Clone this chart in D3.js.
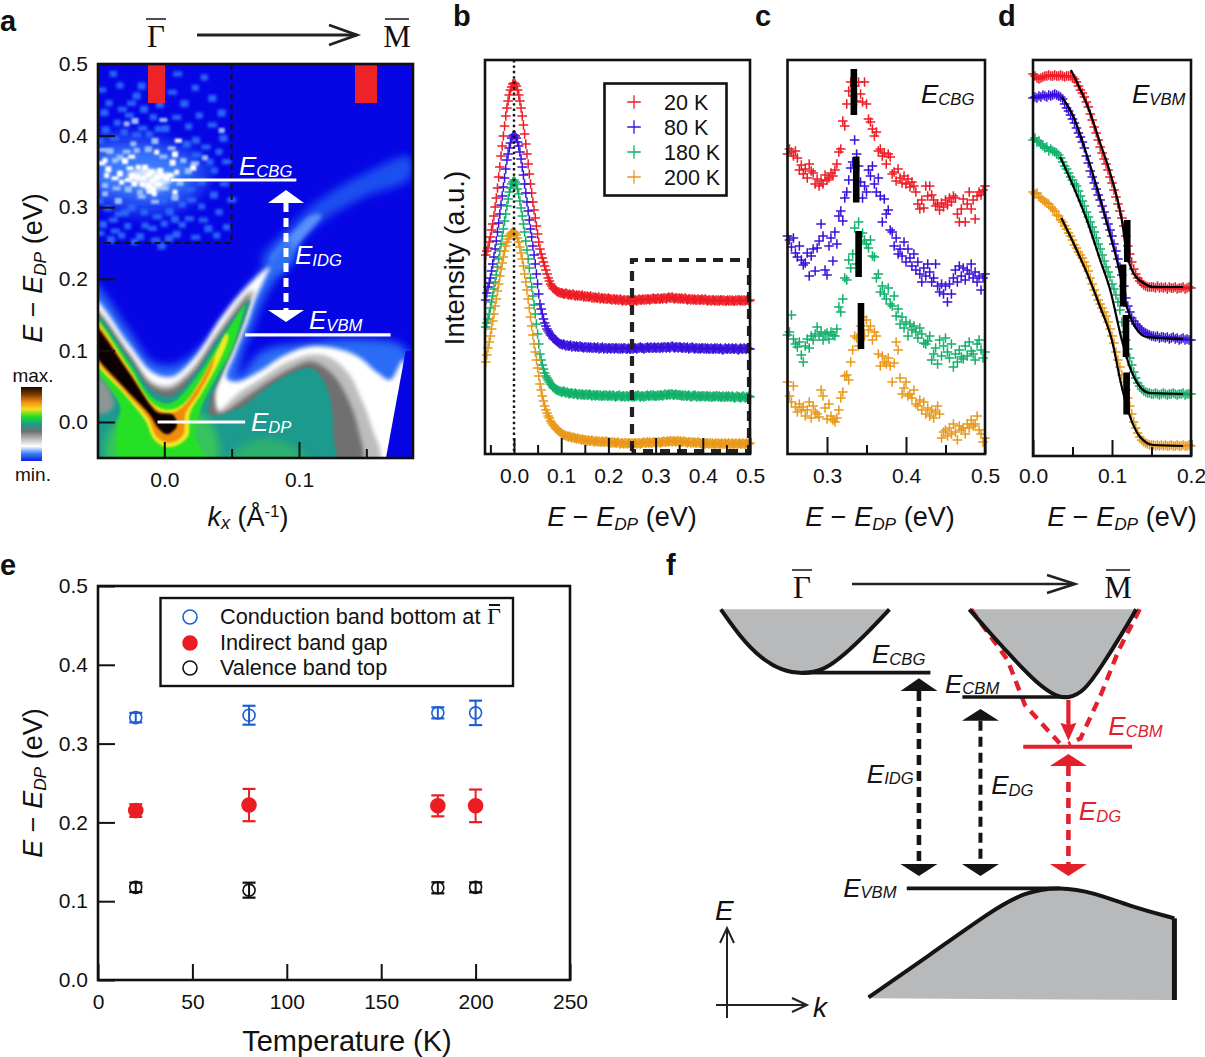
<!DOCTYPE html>
<html><head><meta charset="utf-8">
<script src="https://cdn.jsdelivr.net/npm/d3@7/dist/d3.min.js"></script>
<style>
html,body{margin:0;padding:0;background:#fff}
svg{display:block}
text{font-family:"Liberation Sans",Arial,sans-serif;fill:#111}
.tick text{font-size:21px}
</style></head><body>
<svg id="fig" width="1205" height="1057"></svg>
<script>
// ---------- Panel e ----------
const temperatures=[20,80,180,200];
const cbgEnergy=[.333,.336,.339,.339], cbgErr=[.006,.012,.007,.0155];
const idgEnergy=[.215,.222,.221,.221], idgErr=[.008,.0205,.0133,.0207];
const vbmEnergy=[.1176,.114,.117,.1176], vbmErr=[.006,.0095,.007,.0063];
const tempLabels=["20 K","80 K","180 K","200 K"];
const seriesColors=["#ee1c25","#3a10dc","#12b06a","#e8981a"];
// ---------- Panel b ----------
const eB=[-.06,-.0575,-.055,-.0525,-.05,-.0475,-.045,-.0425,-.04,-.0375,-.035,-.0325,-.03,-.0275,-.025,-.0225,-.02,-.0175,-.015,-.0125,-.01,-.0075,-.005,-.0025,0,.0025,.005,.0075,.01,.0125,.015,.0175,.02,.0225,.025,.0275,.03,.0325,.035,.0375,.04,.0425,.045,.0475,.05,.0525,.055,.0575,.06,.0625,.065,.0675,.07,.0725,.075,.0775,.08,.0825,.085,.0875,.09,.0925,.095,.0975,.1,.1025,.105,.1075,.11,.1125,.115,.1175,.12,.1225,.125,.1275,.13,.1325,.135,.1375,.14,.1425,.145,.1475,.15,.1525,.155,.1575,.16,.1625,.165,.1675,.17,.1725,.175,.1775,.18,.1825,.185,.1875,.19,.1925,.195,.1975,.2,.2025,.205,.2075,.21,.2125,.215,.2175,.22,.2225,.225,.2275,.23,.2325,.235,.2375,.24,.2425,.245,.2475,.25,.2525,.255,.2575,.26,.2625,.265,.2675,.27,.2725,.275,.2775,.28,.2825,.285,.2875,.29,.2925,.295,.2975,.3,.3025,.305,.3075,.31,.3125,.315,.3175,.32,.3225,.325,.3275,.33,.3325,.335,.3375,.34,.3425,.345,.3475,.35,.3525,.355,.3575,.36,.3625,.365,.3675,.37,.3725,.375,.3775,.38,.3825,.385,.3875,.39,.3925,.395,.3975,.4,.4025,.405,.4075,.41,.4125,.415,.4175,.42,.4225,.425,.4275,.43,.4325,.435,.4375,.44,.4425,.445,.4475,.45,.4525,.455,.4575,.46,.4625,.465,.4675,.47,.4725,.475,.4775,.48,.4825,.485,.4875,.49,.4925,.495,.4975,.5];
const bRed=[199,203,206,212,217,224,230,238,247,256,266,277,287,298,308,318,328,338,346,353,359,364,367,370,371,370,368,364,359,353,346,338,329,320,310,300,290,280,270,261,252,244,236,228,220,212,205,200,196,192,188,184,180,176,173,170,168,166,165,164,163,162,162,161,161,161,160,160,161,160,159,160,159,159,160,159,158,159,158,159,158,158,159,157,158,157,158,157,157,158,156,157,156,157,156,156,157,155,156,156,155,156,155,155,156,155,155,154,155,155,154,155,154,154,155,154,153,154,154,153,154,154,153,154,154,153,154,154,153,154,155,154,154,155,154,155,154,155,155,154,155,155,156,155,155,155,156,155,155,156,155,156,156,155,156,157,156,156,157,156,155,156,156,155,156,155,156,155,155,156,155,154,155,155,154,155,154,155,154,154,155,154,154,155,154,154,155,154,153,154,154,153,154,154,153,154,153,154,153,154,154,153,154,153,153,154,153,154,153,154,153,153,154,153,154,154,153,154,153,154,153,154,154,153,154];
const bBlue=[154,161,167,171,176,183,190,197,205,213,222,231,240,249,258,267,276,285,294,300,306,311,316,318,319,318,316,312,308,302,295,287,279,270,261,252,243,234,225,217,208,199,190,180,170,160,150,145,140,135,131,128,125,123,121,119,118,116,115,114,113,112,111,110,110,109,110,109,108,109,108,108,109,107,108,108,107,108,107,107,108,107,107,106,107,107,106,107,106,107,106,106,107,106,106,107,105,106,106,107,105,106,106,105,106,106,105,106,106,105,106,106,105,106,105,106,105,106,106,105,105,106,105,105,106,105,106,106,105,106,106,107,106,106,105,106,106,107,106,106,107,106,106,107,106,106,107,106,106,107,106,107,107,106,107,107,106,107,108,107,106,107,107,106,107,107,106,106,107,106,106,107,105,106,106,107,106,105,106,106,105,106,105,106,106,105,106,105,106,105,105,106,105,105,106,105,106,105,105,106,105,104,105,106,105,105,106,105,105,106,105,105,106,105,104,105,106,105,105,106,105,105,106,105,105];
const bGreen=[127,131,135,140,146,152,158,165,172,179,187,195,203,210,218,225,233,240,248,255,262,266,270,272,274,272,270,265,260,253,246,238,230,222,213,204,195,186,176,167,158,149,140,130,120,110,100,94,89,85,81,78,76,74,72,70,69,67,66,65,64,64,63,63,62,62,63,62,61,62,61,60,61,61,60,60,61,60,59,60,60,59,60,59,59,60,59,59,60,59,58,59,59,58,59,59,58,59,58,58,59,58,59,58,58,59,58,58,59,58,57,58,58,59,58,57,58,58,57,58,58,57,58,58,57,58,57,58,58,59,58,57,58,58,57,58,58,59,58,58,59,58,59,58,58,58,59,58,59,59,58,59,60,59,59,60,59,60,60,59,59,60,59,59,59,59,58,59,58,59,58,58,59,58,57,58,58,59,58,57,58,58,57,58,58,58,57,58,58,57,58,57,57,58,57,58,58,57,58,57,57,58,57,57,58,57,58,57,57,58,57,56,57,58,57,57,56,57,58,57,56,57,57,58,57];
const bOrange=[92,99,106,112,118,125,133,140,148,155,163,170,178,185,191,197,203,208,212,215,218,220,221,222,222,221,219,216,212,207,201,195,188,180,172,164,155,146,137,128,119,110,102,94,86,78,70,64,58,53,48,44,41,38,36,33,31,29,28,26,25,24,23,22,21,20,19,19,18,18,17,18,17,16,17,16,16,15,16,15,15,14,15,14,14,14,13,14,13,13,14,13,12,13,13,12,13,12,12,13,12,12,13,12,12,12,11,12,11,12,11,11,12,11,10,11,11,10,11,11,10,11,11,10,11,10,11,11,10,11,11,10,11,11,12,11,11,12,11,12,11,11,12,12,11,11,12,12,11,12,12,13,12,12,13,12,13,13,12,13,13,12,13,13,12,13,12,12,13,12,12,11,12,12,11,12,11,12,11,11,12,11,11,10,11,11,10,11,11,10,11,10,11,10,10,11,10,11,10,10,11,10,10,11,10,10,11,10,10,11,10,10,11,10,10,11,10,10,11,10,10,11,10,10,11];
// ---------- Panel c ----------
const eC=[.25,.2525,.255,.2575,.26,.2625,.265,.2675,.27,.2725,.275,.2775,.28,.2825,.285,.2875,.29,.2925,.295,.2975,.3,.3025,.305,.3075,.31,.3125,.315,.3175,.32,.3225,.325,.3275,.33,.3325,.335,.3375,.34,.3425,.345,.3475,.35,.3525,.355,.3575,.36,.3625,.365,.3675,.37,.3725,.375,.3775,.38,.3825,.385,.3875,.39,.3925,.395,.3975,.4,.4025,.405,.4075,.41,.4125,.415,.4175,.42,.4225,.425,.4275,.43,.4325,.435,.4375,.44,.4425,.445,.4475,.45,.4525,.455,.4575,.46,.4625,.465,.4675,.47,.4725,.475,.4775,.48,.4825,.485,.4875,.49,.4925,.495,.4975,.5];
const cRed=[300,305,302,298,303,296,284,289,280,285,276,290,283,281,270,275,268,273,270,279,274,276,281,278,284,290,302,305,333,328,350,363,372,358,368,353,372,360,352,372,350,335,332,325,318,322,303,305,298,301,290,300,297,280,282,273,285,276,271,278,270,275,267,272,268,262,250,245,254,246,268,258,268,259,254,248,250,244,251,247,254,249,256,252,258,256,240,232,245,255,232,250,262,245,254,235,258,262,259,264,268];
const cBlue=[218,214,207,216,201,197,208,194,189,191,201,178,198,205,183,206,213,230,218,184,179,208,216,193,222,210,238,243,233,256,262,274,286,292,314,300,288,272,256,268,262,284,278,288,270,262,276,258,232,255,240,244,224,222,208,216,200,205,198,212,192,205,196,188,200,184,192,180,172,186,178,190,182,172,176,190,168,162,170,160,168,152,170,160,176,184,172,188,178,186,174,184,180,190,176,182,172,178,164,176,180];
const cGreen=[119,122,139,115,110,107,112,99,92,108,115,106,118,114,120,127,118,122,114,120,121,115,122,119,118,125,147,142,155,176,174,194,186,200,226,190,232,212,221,214,210,206,214,198,197,176,180,162,168,160,155,166,150,148,158,138,145,130,137,126,132,118,130,124,128,122,116,126,120,111,110,113,118,94,100,106,90,114,98,108,116,102,96,110,87,100,92,104,97,95,108,98,112,103,100,94,110,114,104,96,102];
const cOrange=[72,58,52,68,47,42,50,44,47,38,44,52,36,48,42,40,37,64,58,46,35,50,38,34,32,36,44,56,62,78,79,74,92,104,118,116,108,128,137,118,134,124,128,114,122,118,100,88,98,92,90,96,88,72,91,112,104,76,60,66,72,58,60,56,64,50,48,54,44,52,40,46,38,44,36,42,48,40,16,22,24,18,26,20,30,22,14,28,24,26,20,30,26,34,28,30,38,24,20,12,16];
const cBarE=[.334,.337,.34,.343], cBarI=[362,274.5,200,128];
// ---------- Panel d ----------
const eD=[0,.0025,.005,.0075,.01,.0125,.015,.0175,.02,.0225,.025,.0275,.03,.0325,.035,.0375,.04,.0425,.045,.0475,.05,.0525,.055,.0575,.06,.0625,.065,.0675,.07,.0725,.075,.0775,.08,.0825,.085,.0875,.09,.0925,.095,.0975,.1,.1025,.105,.1075,.11,.1125,.115,.1175,.12,.1225,.125,.1275,.13,.1325,.135,.1375,.14,.1425,.145,.1475,.15,.1525,.155,.1575,.16,.1625,.165,.1675,.17,.1725,.175,.1775,.18,.1825,.185,.1875,.19,.1925,.195,.1975,.2];
const dRed=[382,380,378,377,378,379,380,380,381,380,380,381,380,380,381,380,379,380,380,380,379,377,374,370,366,363,359,354,349,342,336,329,323,316,309,303,297,292,286,279,273,266,259,252,245,238,230,220,210,202,194,187,182,178,175,173,171,170,169,169,169,169,168,170,168,169,168,169,167,169,168,168,169,167,168,168,169,167,168,169,168];
const dBlue=[358,359,358,360,359,361,360,359,361,360,361,362,361,360,359,357,352,348,345,341,337,333,328,323,319,314,308,300,293,285,279,273,267,261,256,250,244,238,232,226,220,212,205,197,189,181,170,158,150,144,138,135,132,130,128,126,124,123,122,121,120,120,119,120,118,119,119,118,119,117,118,119,117,118,116,117,118,116,117,116,116];
const dGreen=[316,318,314,315,312,310,308,309,305,307,305,304,303,301,298,294,290,287,283,279,276,272,270,265,260,255,250,244,239,234,229,224,218,212,207,201,195,189,184,179,172,167,161,154,146,134,124,116,107,98,91,84,78,73,70,67,65,64,63,63,62,62,63,62,61,62,63,62,61,62,62,63,62,61,62,62,63,61,62,62,62];
const dOrange=[264,262,263,259,258,256,254,253,252,249,247,245,241,240,236,234,230,227,223,220,216,211,208,204,201,198,194,190,185,178,172,166,161,156,152,148,144,140,134,127,120,113,104,96,89,81,74,66,58,50,42,34,28,23,19,16,14,13,12,11,11,11,10,11,10,11,10,11,10,10,11,10,10,11,10,10,11,10,10,11,10];
const fitRed=[[.048,386],[.0724,343],[.085,313],[.0977,283],[.1124,236],[.1187,203],[.127,183],[.14,173],[.1524,169],[.19,169]];
const fitBlue=[[.0366,359],[.0514,339],[.0661,306],[.0808,269],[.0935,233],[.1082,189],[.1187,149],[.1293,129],[.144,119],[.19,117]];
const fitGreen=[[.0345,299],[.0514,269],[.0682,236],[.085,196],[.0977,166],[.1124,116],[.123,88],[.1356,69],[.1482,63],[.19,62]];
const fitOrange=[[.0358,238],[.0535,209],[.0703,179],[.085,149],[.0998,116],[.1124,69],[.123,39],[.1356,19],[.1524,11],[.19,10]];
const dBarE=[.1193,.114,.1177,.1185], dBarI=[215,170.5,120,62.5];
// ---------- Panel a: iso-intensity outlines ----------
const isoHalo=[[-10,100],[100,240],[170,335],[240,345],[340,270],[460,110],[530,25],[575,-30],[600,20],[540,90],[495,170],[470,240],[445,300],[430,385],[500,305],[620,280],[800,268],[935,300],[935,640],[-10,640]];
const isoBandUpper=[[500,30],[590,-75],[660,-140],[800,-225],[945,-280],[945,-215],[810,-160],[680,-85],[610,-15],[550,70]];
const isoBandBright=[[525,35],[600,-60],[650,-105],[680,-105],[620,-30],[555,55]];
const isoWhite=[[-10,145],[100,280],[170,365],[230,380],[300,320],[380,200],[460,105],[525,50],[510,85],[480,150],[460,210],[420,310],[395,385],[425,395],[500,360],[560,320],[640,290],[720,295],[790,320],[850,370],[885,390],[925,330],[925,640],[-10,640]];
const isoGray=[[-10,170],[100,305],[170,395],[225,405],[290,355],[370,240],[460,125],[478,122],[460,175],[430,260],[400,330],[370,395],[355,440],[368,482],[430,430],[500,385],[570,340],[640,315],[700,320],[760,370],[800,450],[830,530],[850,640],[-10,640]];
const isoDarkGray=[[-10,180],[100,312],[170,405],[225,418],[290,370],[370,255],[465,135],[450,190],[420,280],[385,360],[360,430],[372,490],[440,450],[520,395],[600,350],[650,335],[710,370],[760,450],[790,540],[795,640],[-10,640]];
const isoTeal=[[-10,188],[100,322],[170,420],[225,440],[290,385],[370,265],[465,150],[455,190],[420,280],[380,370],[345,450],[345,495],[440,470],[520,410],[600,365],[650,355],[690,400],[710,470],[715,560],[715,640],[-10,640]];
const isoLowerGreen=[[390,640],[440,590],[510,565],[600,595],[640,640]];
const isoGreenBase=[[40,640],[45,540],[110,500],[330,500],[365,640]];
const isoGreen=[[-10,193],[100,335],[170,440],[225,460],[290,400],[370,285],[450,165],[440,205],[410,300],[365,380],[320,470],[300,560],[335,640],[80,640],[65,530],[75,470],[-10,335]];
const isoLeftGray=[[-10,375],[35,405],[55,470],[25,490],[-10,480]];
const isoYellow=[[-10,200],[100,350],[170,458],[222,480],[265,462],[315,395],[360,315],[395,250],[400,262],[370,340],[320,430],[285,490],[278,560],[225,592],[180,572],[150,510],[90,435],[-10,315]];
const isoOrange=[[-10,208],[100,358],[170,465],[218,490],[258,475],[312,405],[358,320],[350,355],[312,428],[272,490],[264,555],[225,578],[185,560],[160,505],[90,425],[-10,305]];
const isoBlack=[[-10,220],[100,365],[170,470],[190,488],[235,495],[245,530],[215,553],[190,535],[165,495],[90,415],[-10,295]];
const cutoffWedge=[[932,303],[870,640],[975,640],[975,303]];
const speckCloudOuter=[[10,235],[110,215],[230,245],[320,285],[350,345],[300,420],[190,465],[70,455],[10,420]];
const speckCloudInner=[[10,285],[100,265],[200,280],[290,320],[270,385],[180,420],[80,405],[10,385]];
const speckCore=[[95,345],[140,325],[200,335],[240,350],[210,380],[175,395],[135,375]];
const speckBright=[[172,362],[185,350],[160,345],[200,345],[215,350],[145,355],[128,350],[112,345],[100,360],[175,385],[160,375],[190,372],[240,395],[233,305],[250,242],[130,320],[150,320],[105,325],[30,300],[40,325],[20,310],[35,345],[90,300],[110,290],[185,275],[240,280],[225,345],[245,335],[195,330],[170,335],[142,372],[118,368],[165,395],[178,400],[75,338],[60,355],[80,365],[295,320]];
const speckMid=[[60,300],[75,290],[95,275],[125,270],[160,265],[205,290],[265,300],[280,330],[300,310],[330,292],[255,365],[210,385],[135,395],[100,385],[65,385],[30,375],[45,270],[25,270],[115,250],[180,240],[230,265],[95,190],[120,180],[205,180],[380,210],[240,410],[140,410],[30,400],[70,420],[180,425]];
const speckDim=[[55,40],[125,105],[82,148],[42,128],[28,155],[103,166],[67,187],[147,145],[143,205],[88,215],[32,207],[58,235],[163,222],[212,203],[245,172],[281,198],[303,238],[333,261],[372,274],[385,232],[352,195],[313,165],[268,128],[232,97],[301,82],[352,112],[248,42],[328,51],[380,156],[395,305],[358,330],[320,362],[285,388],[262,432],[224,452],[187,470],[148,455],[110,440],[73,462],[38,443],[24,490],[61,513],[98,497],[135,527],[172,505],[208,490],[245,520],[283,476],[320,438],[357,402],[388,372],[372,455],[340,503],[302,532],[262,493],[222,532],[182,540],[118,544],[48,536],[410,420],[395,500],[15,240],[20,90],[75,75],[140,75],[110,130],[175,170],[195,130],[125,225],[190,205],[275,250],[305,285],[345,305],[270,352],[290,420],[205,420],[90,455],[55,480],[150,495],[240,475],[325,480],[365,525],[15,420],[15,520],[80,525],[200,555]];
const colorbarStops=["#1a0a00","#7a3a00","#f08a10","#f4e020","#20e020","#1a9a90","#707070","#bbbbbb","#ffffff","#3a80f8","#0a20e0"];
// ---------- Panel f: schematic bands, [trace k, trace E] ----------
const bandCBG=[[175,178],[230,260],[290,325],[350,362],[410,372],[470,362],[530,315],[600,245],[660,178]];
const bandCBM=[[890,178],[950,250],[1020,330],[1085,400],[1140,440],[1175,445],[1220,425],[1270,350],[1330,250],[1370,178]];
const bandDashL=[[895,178],[1000,330],[1050,465],[1150,580]];
const bandDashR=[[1380,178],[1320,300],[1270,430],[1210,565],[1175,582]];
const bandVB=[[600,1342],[775,1216],[950,1085],[1050,1025],[1150,1010],[1250,1028],[1350,1068],[1480,1105]];

const svg=d3.select("#fig");
const defs=svg.append("defs");
function blur(id,s){defs.append("filter").attr("id",id).attr("x","-10%").attr("y","-10%").attr("width","120%").attr("height","120%")
 .append("feGaussianBlur").attr("stdDeviation",s);}
blur("b1",1);blur("b15",1.5);blur("b2",2);blur("b3",4);blur("b4",6);

function addAxes(g,x,o){
  g.append("g").attr("transform",`translate(0,${o.B})`).call(d3.axisBottom(x).tickValues(o.xMajor).tickSize(-o.maj).tickPadding(o.pad||14).tickFormat(d3.format(".1f")))
   .call(s=>s.select(".domain").remove()).call(s=>s.selectAll("line").attr("stroke","#111").attr("stroke-width",2));
  if(o.xMinor) g.append("g").attr("transform",`translate(0,${o.B})`).call(d3.axisBottom(x).tickValues(o.xMinor).tickSize(-o.min).tickFormat(""))
   .call(s=>s.select(".domain").remove()).call(s=>s.selectAll("line").attr("stroke","#111").attr("stroke-width",2));
}
function frame(g,L,T,R,B){g.append("rect").attr("x",L).attr("y",T).attr("width",R-L).attr("height",B-T).attr("fill","none").attr("stroke","#111").attr("stroke-width",2.6);}
function eLabel(g,x,y,sub,color,size){
  const t=g.append("text").attr("x",x).attr("y",y).attr("font-size",size).attr("font-style","italic").style("fill",color);
  t.append("tspan").text("E");
  t.append("tspan").attr("font-size",size*.64).attr("dy",size*.06).text(sub);
  return t;
}
function axisTitle(g,x,y,rot,size){
  const t=g.append("text").attr("font-size",size).attr("text-anchor","middle")
   .attr("transform",`translate(${x},${y})`+(rot?" rotate(-90)":""));
  t.append("tspan").attr("font-style","italic").text("E");
  t.append("tspan").text(" \u2212 ");
  t.append("tspan").attr("font-style","italic").text("E");
  t.append("tspan").attr("font-style","italic").attr("font-size",size*.64).attr("dy",size*.14).text("DP");
  t.append("tspan").attr("dy",-size*.14).text(" (eV)");
}
function letter(s,x,y){svg.append("text").attr("x",x).attr("y",y).attr("font-size",29).attr("font-weight",700).text(s);}
function gammaM(g,gx,mx,cy){
  g.append("text").attr("x",gx).attr("y",cy).attr("text-anchor","middle").attr("font-size",31).style("font-family","'Liberation Serif',serif").text("\u0393");
  g.append("text").attr("x",mx).attr("y",cy).attr("text-anchor","middle").attr("font-size",31).style("font-family","'Liberation Serif',serif").text("M");
  [[gx,10],[mx,12]].forEach(([c,h])=>g.append("line").attr("x1",c-h).attr("x2",c+h).attr("y1",cy-28).attr("y2",cy-28).attr("stroke","#222").attr("stroke-width",1.6));
}
function openArrow(g,x1,y1,x2,y2,l,w,sw,color){
  g.append("line").attr("x1",x1).attr("y1",y1).attr("x2",x2).attr("y2",y2).attr("stroke",color).attr("stroke-width",sw);
  const hor=y1===y2, d=hor?Math.sign(x2-x1):Math.sign(y2-y1);
  const pts=hor?[[x2-d*l,y2-w],[x2,y2],[x2-d*l,y2+w]]:[[x2-w,y2-d*l],[x2,y2],[x2+w,y2-d*l]];
  g.append("path").attr("d",d3.line()(pts)).attr("fill","none").attr("stroke",color).attr("stroke-width",sw);
}
const plus=d3.symbol(d3.symbolPlus,32)();
function plusSeries(g,x,y,es,vals,color,sw){
  g.append("g").selectAll("path").data(vals).join("path").attr("d",plus)
   .attr("transform",(v,i)=>`translate(${x(es[i])},${y(v)})`).attr("fill","none").attr("stroke",color).attr("stroke-width",sw);
}
function vBars(g,x,y,es,is,half){
  g.append("g").selectAll("rect").data(es).join("rect").attr("x",e=>x(e)-3.3).attr("width",6.6)
   .attr("y",(e,i)=>y(is[i]+half)).attr("height",(e,i)=>y(is[i]-half)-y(is[i]+half)).attr("fill","#000");
}

// ================= a =================
(function(){
 const g=svg.append("g");
 const L=98,R=413,T=64,B=458;
 const xA=d3.scaleLinear().domain([0,.1]).range([164.3,299]);
 const yA=d3.scaleLinear().domain([0,.5]).range([422,64]);
 // outlines traced on a 3x grid starting at (95,250); speckles on a 3x grid starting at (95,60)
 const toK=p=>(p[0]/3-69.3)/1347, toE=p=>(172-p[1]/3)/716, toE2=p=>(362-p[1]/3)/716;
 defs.append("clipPath").attr("id","clipA").append("rect").attr("x",L).attr("y",T).attr("width",R-L).attr("height",B-T);
 const m=g.append("g").attr("clip-path","url(#clipA)");
 m.append("rect").attr("x",L).attr("y",T).attr("width",R-L).attr("height",B-T).attr("fill","#0606e4");
 const closed2=d3.line().x(d=>xA(toK(d))).y(d=>yA(toE2(d))).curve(d3.curveCatmullRomClosed.alpha(.5));
 m.append("path").attr("d",closed2(speckCloudOuter)).attr("fill","#1a40f0").attr("filter","url(#b4)");
 m.append("path").attr("d",closed2(speckCloudInner)).attr("fill","#3a78fb").attr("filter","url(#b4)");
 const sp=(arr,col,w,h,f)=>m.append("g").attr("filter",`url(#${f})`).selectAll("rect").data(arr).join("rect")
   .attr("x",(d,i)=>xA(toK(d))-(w+i%3)/2).attr("y",d=>yA(toE2(d))-h/2).attr("width",(d,i)=>w+i%3).attr("height",(d,i)=>h+(i+1)%3).attr("fill",col);
 sp(speckDim,"#2a66fa",7,5,"b15"); sp(speckMid,"#9cc0ff",6,4,"b1");
 m.append("path").attr("d",closed2(speckCore)).attr("fill","#cfe0ff").attr("filter","url(#b2)");
 sp(speckBright,"#ffffff",5,4,"b1");
 const closed=d3.line().x(d=>xA(toK(d))).y(d=>yA(toE(d))).curve(d3.curveCatmullRomClosed.alpha(.5));
 const poly=d3.line().x(d=>xA(toK(d))).y(d=>yA(toE(d))).curve(d3.curveLinearClosed);
 const lay=(arr,col,f,gen=closed)=>m.append("path").attr("d",gen(arr)).attr("fill",col).attr("filter",`url(#${f})`);
 lay(isoBandUpper,"#1c50f0","b3");
 lay(isoBandBright,"#5a90fa","b2");
 lay(isoHalo,"#2a6cf5","b3");
 lay(isoWhite,"#ffffff","b2");
 lay(isoGray,"#bdbdbd","b2");
 lay(isoDarkGray,"#6f6f6f","b2");
 lay(isoTeal,"#1c9a8e","b1");
 lay(isoLowerGreen,"#2fb06e","b3");
 lay(isoGreenBase,"#38c45c","b3");
 lay(isoGreen,"#28e028","b1");
 lay(isoLeftGray,"#8c9694","b2");
 lay(isoYellow,"#f2ea20","b1");
 lay(isoOrange,"#f08c10","b1");
 lay(isoBlack,"#0a0400","b1");
 m.append("path").attr("d",poly(cutoffWedge)).attr("fill","#0606e4");
 [[148,165],[355,377]].forEach(([a,b])=>m.append("rect").attr("x",a).attr("y",T).attr("width",b-a).attr("height",39).attr("fill","#ee2327"));
 m.append("path").attr("d",`M${xA(.05)},${T}V${yA(.25)}H${L}`).attr("fill","none").attr("stroke","#111").attr("stroke-width",2).attr("stroke-dasharray","6 4");
 const wl=(k0,k1,e)=>g.append("line").attr("x1",xA(k0)).attr("x2",xA(k1)).attr("y1",yA(e)).attr("y2",yA(e)).attr("stroke","#fff").attr("stroke-width",3.2);
 wl(.005,.098,.338); wl(.06,.168,.1217); wl(-.005,.06,0);
 eLabel(g,239,175,"CBG","#fff",26); eLabel(g,295,264,"IDG","#fff",26); eLabel(g,309,329,"VBM","#fff",26); eLabel(g,251,431,"DP","#fff",26);
 g.append("line").attr("x1",286).attr("x2",286).attr("y1",203).attr("y2",310).attr("stroke","#fff").attr("stroke-width",5).attr("stroke-dasharray","9 6");
 g.append("path").attr("d","M286,190L304,203H268Z M286,322L304,310H268Z").attr("fill","#fff");
 g.append("g").attr("transform",`translate(${L},0)`).call(d3.axisLeft(yA).tickValues([0,.1,.2,.3,.4,.5]).tickSize(-17).tickPadding(10).tickFormat(d3.format(".1f")))
  .call(s=>s.select(".domain").remove()).call(s=>s.selectAll("line").attr("stroke","#111").attr("stroke-width",2));
 addAxes(g,xA,{B,xMajor:[0,.1],maj:16,xMinor:[.05,.15],min:9,pad:14});
 frame(g,L,T,R,B);
 axisTitle(g,42,268,true,27);
 const kt=g.append("text").attr("x",248).attr("y",526).attr("text-anchor","middle").attr("font-size",27);
 kt.append("tspan").attr("font-style","italic").text("k");
 kt.append("tspan").attr("font-style","italic").attr("font-size",18).attr("dy",3).text("x");
 kt.append("tspan").attr("dy",-3).text(" (\u00c5");
 kt.append("tspan").attr("font-size",17).attr("dy",-9).text("-1");
 kt.append("tspan").attr("dy",9).text(")");
 gammaM(g,156,397,47);
 openArrow(g,197,35,357,35,28,10,2.8,"#222");
 const grad=defs.append("linearGradient").attr("id","cbar").attr("x1",0).attr("x2",0).attr("y1",0).attr("y2",1);
 colorbarStops.forEach((c,i)=>grad.append("stop").attr("offset",i/(colorbarStops.length-1)).attr("stop-color",c));
 g.append("rect").attr("x",21).attr("y",387).attr("width",21).attr("height",74).attr("fill","url(#cbar)");
 g.append("text").attr("x",33).attr("y",382).attr("text-anchor","middle").attr("font-size",19).text("max.");
 g.append("text").attr("x",33).attr("y",481).attr("text-anchor","middle").attr("font-size",19).text("min.");
 letter("a",0,31);
})();

// ================= b =================
const seriesB=[bRed,bBlue,bGreen,bOrange];
(function(){
 const g=svg.append("g");
 const L=485,R=750,T=60,B=454;
 const x=d3.scaleLinear().domain([0,.5]).range([514,750]);
 const y=d3.scaleLinear().domain([0,394]).range([454,60]);
 seriesB.forEach((v,i)=>plusSeries(g,x,y,eB,v,seriesColors[i],1.5));
 g.append("line").attr("x1",x(0)).attr("x2",x(0)).attr("y1",T).attr("y2",B).attr("stroke","#111").attr("stroke-width",2.4).attr("stroke-dasharray","2.4 3");
 g.append("path").attr("d",`M${x(.25)},${B-3}V260H${R-1}V${B-3}H${x(.25)}`).attr("fill","none").attr("stroke","#222").attr("stroke-width",4.2).attr("stroke-dasharray","10 7");
 addAxes(g,x,{B,xMajor:[0,.1,.2,.3,.4,.5],maj:16,xMinor:[-.05,.05,.15,.25,.35,.45],min:9,pad:14});
 frame(g,L,T,R,B);
 const lg=g.append("g");
 lg.append("rect").attr("x",604.5).attr("y",83.5).attr("width",122).attr("height",112).attr("fill","#fff").attr("stroke","#111").attr("stroke-width",2.6);
 const lgY=d3.scalePoint().domain(tempLabels).range([102,177]);
 tempLabels.forEach((t,i)=>{
  lg.append("path").attr("d",d3.symbol(d3.symbolPlus,62)()).attr("transform",`translate(634,${lgY(t)})`).attr("fill","none").attr("stroke",seriesColors[i]).attr("stroke-width",1.3);
  lg.append("text").attr("x",664).attr("y",lgY(t)+8).attr("font-size",21.5).text(t);
 });
 axisTitle(g,622,526,false,27);
 g.append("text").attr("font-size",27.5).attr("text-anchor","middle").attr("transform","translate(464,258) rotate(-90)").text("Intensity (a.u.)");
 letter("b",453,26);
})();

// ================= c =================
(function(){
 const g=svg.append("g");
 const L=787.5,R=985,T=60,B=454;
 const x=d3.scaleLinear().domain([.25,.5]).range([L,R]);
 const y=d3.scaleLinear().domain([0,394]).range([454,60]);
 [cRed,cBlue,cGreen,cOrange].forEach((v,i)=>plusSeries(g,x,y,eC,v,seriesColors[i],1.5));
 vBars(g,x,y,cBarE,cBarI,23);
 addAxes(g,x,{B,xMajor:[.3,.4,.5],maj:17,xMinor:[.35,.45],min:9,pad:14});
 frame(g,L,T,R,B);
 eLabel(g,921,103,"CBG","#111",26);
 axisTitle(g,880,526,false,27);
 letter("c",755,26);
})();

// ================= d =================
(function(){
 const g=svg.append("g");
 const L=1033,R=1191,T=60,B=456;
 const x=d3.scaleLinear().domain([0,.2]).range([L,R]);
 const y=d3.scaleLinear().domain([0,396]).range([456,60]);
 [dRed,dBlue,dGreen,dOrange].forEach((v,i)=>plusSeries(g,x,y,eD,v,seriesColors[i],1.5));
 const ln=d3.line().x(d=>x(d[0])).y(d=>y(d[1])).curve(d3.curveMonotoneX);
 [fitRed,fitBlue,fitGreen,fitOrange].forEach(f=>g.append("path").attr("d",ln(f)).attr("fill","none").attr("stroke","#000").attr("stroke-width",2.2));
 vBars(g,x,y,dBarE,dBarI,21);
 addAxes(g,x,{B,xMajor:[0,.1,.2],maj:16,xMinor:[.05,.15],min:9,pad:12});
 frame(g,L,T,R,B);
 eLabel(g,1132,103,"VBM","#111",26);
 axisTitle(g,1122,526,false,27);
 letter("d",998,26);
})();

// ================= e =================
(function(){
 const g=svg.append("g");
 const L=98,R=570,T=586,B=980;
 const x=d3.scaleLinear().domain([0,250]).range([L,R]);
 const y=d3.scaleLinear().domain([0,.5]).range([B,T]);
 g.append("g").attr("transform",`translate(0,${B})`).call(d3.axisBottom(x).tickValues([0,50,100,150,200,250]).tickSize(-16).tickPadding(14).tickFormat(d3.format("d")))
  .call(s=>s.select(".domain").remove()).call(s=>s.selectAll("line").attr("stroke","#111").attr("stroke-width",2));
 g.append("g").attr("transform",`translate(${L},0)`).call(d3.axisLeft(y).tickValues([0,.1,.2,.3,.4,.5]).tickSize(-17).tickPadding(10).tickFormat(d3.format(".1f")))
  .call(s=>s.select(".domain").remove()).call(s=>s.selectAll("line").attr("stroke","#111").attr("stroke-width",2));
 frame(g,L,T,R,B);
 const sets=[[cbgEnergy,cbgErr,"#1e5fd2",false],[idgEnergy,idgErr,"#ec1c24",true],[vbmEnergy,vbmErr,"#111",false]];
 sets.forEach(([v,er,c,fill])=>{
  const s=g.append("g").selectAll("g").data(temperatures).join("g");
  s.append("line").attr("x1",d=>x(d)).attr("x2",d=>x(d)).attr("y1",(d,i)=>y(v[i]-er[i])).attr("y2",(d,i)=>y(v[i]+er[i])).attr("stroke",c).attr("stroke-width",2);
  [-1,1].forEach(sg=>s.append("line").attr("x1",d=>x(d)-6.5).attr("x2",d=>x(d)+6.5).attr("y1",(d,i)=>y(v[i]+sg*er[i])).attr("y2",(d,i)=>y(v[i]+sg*er[i])).attr("stroke",c).attr("stroke-width",2.2));
  s.append("circle").attr("cx",d=>x(d)).attr("cy",(d,i)=>y(v[i])).attr("r",fill?7:6).attr("fill",fill?c:"none").attr("stroke",c).attr("stroke-width",1.6);
 });
 const lg=g.append("g");
 lg.append("rect").attr("x",160.5).attr("y",598).attr("width",352.5).attr("height",88).attr("fill","#fff").attr("stroke","#111").attr("stroke-width",2.4);
 const rows=[["Conduction band bottom at",617,"#1e5fd2",false],["Indirect band gap",643,"#ec1c24",true],["Valence band top",668,"#111",false]];
 rows.forEach(([t,yy,c,f])=>{
  lg.append("circle").attr("cx",190).attr("cy",yy).attr("r",7).attr("fill",f?c:"none").attr("stroke",c).attr("stroke-width",1.6);
  lg.append("text").attr("x",220).attr("y",yy+7).attr("font-size",21.7).text(t);
 });
 lg.append("text").attr("x",494).attr("y",624).attr("text-anchor","middle").attr("font-size",24).style("font-family","'Liberation Serif',serif").text("\u0393");
 lg.append("line").attr("x1",489).attr("x2",500).attr("y1",605).attr("y2",605).attr("stroke","#111").attr("stroke-width",2);
 axisTitle(g,42,783,true,27);
 g.append("text").attr("x",347).attr("y",1051).attr("text-anchor","middle").attr("font-size",29).text("Temperature (K)");
 letter("e",0,575);
})();

// ================= f =================
(function(){
 const g=svg.append("g");
 const kf=d3.scaleLinear().domain([0,1568]).range([660,1205]);
 const ef=d3.scaleLinear().domain([0,1440]).range([550,1030]);
 const ln=d3.line().x(d=>kf(d[0])).y(d=>ef(d[1])).curve(d3.curveBasis);
 const lin=d3.line().x(d=>kf(d[0])).y(d=>ef(d[1]));
 const gray="#b7b9bb", red="#e3202c", ink="#151515";
 [bandCBG,bandCBM].forEach(b=>g.append("path").attr("d",ln(b)+"Z").attr("fill",gray));
 g.append("path").attr("d",ln(bandVB)+`L${kf(1480)},${ef(1350)}L${kf(610)},${ef(1345)}Z`).attr("fill",gray);
 [bandDashL,bandDashR].forEach(b=>g.append("path").attr("d",lin(b)).attr("fill","none").attr("stroke",red).attr("stroke-width",4.4).attr("stroke-dasharray","10 7"));
 [bandCBG,bandCBM].forEach(b=>g.append("path").attr("d",ln(b)).attr("fill","none").attr("stroke",ink).attr("stroke-width",4));
 g.append("path").attr("d",ln(bandVB)).attr("fill","none").attr("stroke",ink).attr("stroke-width",4);
 g.append("line").attr("x1",kf(1480)).attr("x2",kf(1480)).attr("y1",ef(1105)).attr("y2",ef(1350)).attr("stroke",ink).attr("stroke-width",5);
 const hl=(a,b,e,c,w)=>g.append("line").attr("x1",kf(a)).attr("x2",kf(b)).attr("y1",ef(e)).attr("y2",ef(e)).attr("stroke",c).attr("stroke-width",w||3.6);
 hl(410,778,368,ink); hl(870,1175,441,ink); hl(710,1150,1015,ink); hl(1045,1358,590,red,4);
 g.append("line").attr("x1",kf(1175)).attr("x2",kf(1175)).attr("y1",ef(450)).attr("y2",ef(530)).attr("stroke",red).attr("stroke-width",4.2);
 g.append("path").attr("d",`M${kf(1175)},${ef(572)}L${kf(1152)},${ef(518)}L${kf(1175)},${ef(526)}L${kf(1198)},${ef(518)}Z`).attr("fill",red);
 const dbl=(zk,tip,base,base2,tip2,c,w,hw)=>{
  const x=kf(zk);
  g.append("line").attr("x1",x).attr("x2",x).attr("y1",ef(base)).attr("y2",ef(base2)).attr("stroke",c).attr("stroke-width",w).attr("stroke-dasharray","10 6");
  g.append("path").attr("d",`M${x},${ef(tip)}L${x+hw},${ef(base)}H${x-hw}Z M${x},${ef(tip2)}L${x+hw},${ef(base2)}H${x-hw}Z`).attr("fill",c);
 };
 dbl(745,385,423,942,978,ink,4.6,18.5);
 dbl(922,477,512,942,978,ink,4,18.5);
 dbl(1175,612,648,942,978,red,4.6,18.5);
 eLabel(g,kf(610),ef(340),"CBG",ink,26);
 eLabel(g,kf(820),ef(428),"CBM",ink,26);
 eLabel(g,kf(1290),ef(555),"CBM",red,26);
 eLabel(g,kf(595),ef(698),"IDG",ink,26);
 eLabel(g,kf(953),ef(733),"DG",ink,26);
 eLabel(g,kf(1205),ef(810),"DG",red,26);
 eLabel(g,kf(527),ef(1040),"VBM",ink,26);
 gammaM(g,802,1118,598);
 openArrow(g,852,584,1075,584,28,9,2.6,"#222");
 openArrow(g,727,1018,727,928,15,7,2,"#222");
 openArrow(g,716,1005,807,1005,15,7,2,"#222");
 g.append("text").attr("x",715).attr("y",920).attr("font-size",28).attr("font-style","italic").text("E");
 g.append("text").attr("x",813).attr("y",1017).attr("font-size",28).attr("font-style","italic").text("k");
 letter("f",666,575);
})();
</script>
</body></html>
